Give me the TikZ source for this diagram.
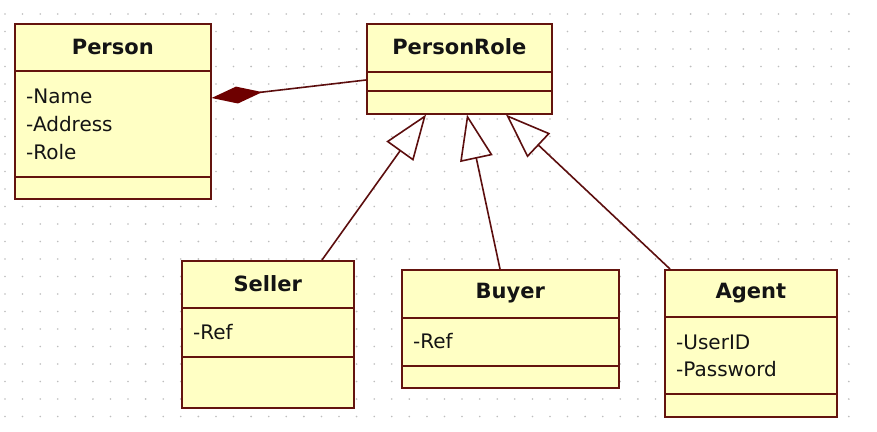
\documentclass[tikz,border=0pt]{standalone}
\usepackage{fontspec}
\setmainfont{DejaVu Sans}
\usetikzlibrary{arrows.meta}
\definecolor{boxfill}{RGB}{255,255,196}
\definecolor{boxline}{RGB}{100,20,14}
\definecolor{conline}{RGB}{92,14,14}
\definecolor{diamondc}{RGB}{110,0,0}
\definecolor{dotc}{RGB}{190,190,190}
\definecolor{txt}{RGB}{20,20,20}
\tikzset{
  cls/.style={draw=boxline, fill=boxfill, line width=1.6pt, anchor=north west, inner sep=0pt},
  sep/.style={draw=boxline, line width=1.6pt},
  title/.style={text=txt, font=\fontsize{21}{25}\selectfont\bfseries, inner sep=0pt},
  attr/.style={text=txt, font=\fontsize{20}{24}\selectfont, anchor=west, inner sep=0pt},
  assoc/.style={draw=conline, line width=1.6pt, {Diamond[length=51pt,width=17pt,fill=diamondc,color=diamondc]}-},
  gen/.style={draw=conline, line width=1.6pt, -{Triangle[open,length=45pt,width=33pt]}}
}
\begin{document}
\begin{tikzpicture}[x=1pt,y=-1pt]
\useasboundingbox (0,0) rectangle (877,431);
\fill[white] (0,0) rectangle (877,431);
% dotted grid
\foreach \i in {0,...,48} {
  \foreach \j in {0,...,23} {
    \fill[dotc] ({5+17.58*\i},{14+17.5*\j}) circle (0.9pt);
  }
}
% Person
\node[cls, minimum width=196pt, minimum height=175pt] (person) at (14,23) {};
\draw[sep] (person.west |- 0,71) -- (person.east |- 0,71);
\draw[sep] (person.west |- 0,177) -- (person.east |- 0,177);
\node[title] (personT) at (person.north |- 0,47) {Person};
\node[attr] (personA1) at (26,96) {-Name};
\node[attr] (personA2) at (26,124) {-Address};
\node[attr] (personA3) at (26,152) {-Role};
% PersonRole
\node[cls, minimum width=185pt, minimum height=90pt] (role) at (366,23) {};
\draw[sep] (role.west |- 0,72) -- (role.east |- 0,72);
\draw[sep] (role.west |- 0,91) -- (role.east |- 0,91);
\node[title] (roleT) at (role.north |- 0,47) {PersonRole};
% Seller
\node[cls, minimum width=172pt, minimum height=147pt] (seller) at (181,260) {};
\draw[sep] (seller.west |- 0,308) -- (seller.east |- 0,308);
\draw[sep] (seller.west |- 0,357) -- (seller.east |- 0,357);
\node[title] (sellerT) at (seller.north |- 0,284) {Seller};
\node[attr] (sellerA1) at (193,332) {-Ref};
% Buyer
\node[cls, minimum width=217pt, minimum height=118pt] (buyer) at (401,269) {};
\draw[sep] (buyer.west |- 0,318) -- (buyer.east |- 0,318);
\draw[sep] (buyer.west |- 0,366) -- (buyer.east |- 0,366);
\node[title] (buyerT) at (buyer.north |- 0,293) {Buyer};
\node[attr] (buyerA1) at (413,341) {-Ref};
% Agent
\node[cls, minimum width=172pt, minimum height=147pt] (agent) at (664,269) {};
\draw[sep] (agent.west |- 0,317) -- (agent.east |- 0,317);
\draw[sep] (agent.west |- 0,394) -- (agent.east |- 0,394);
\node[title] (agentT) at (agent.north |- 0,293) {Agent};
\node[attr] (agentA1) at (676,342) {-UserID};
\node[attr] (agentA2) at (676,369) {-Password};
% connectors
\draw[assoc] (person.east |- 0,98) -- (role.west |- 0,80);
\draw[gen] (seller.north -| 322,0) -- (role.south -| 426,0);
\draw[gen] (buyer.north -| 500,0) -- (role.south -| 467,0);
\draw[gen] (agent.north -| 670,0) -- (role.south -| 506,0);
\end{tikzpicture}
\end{document}
